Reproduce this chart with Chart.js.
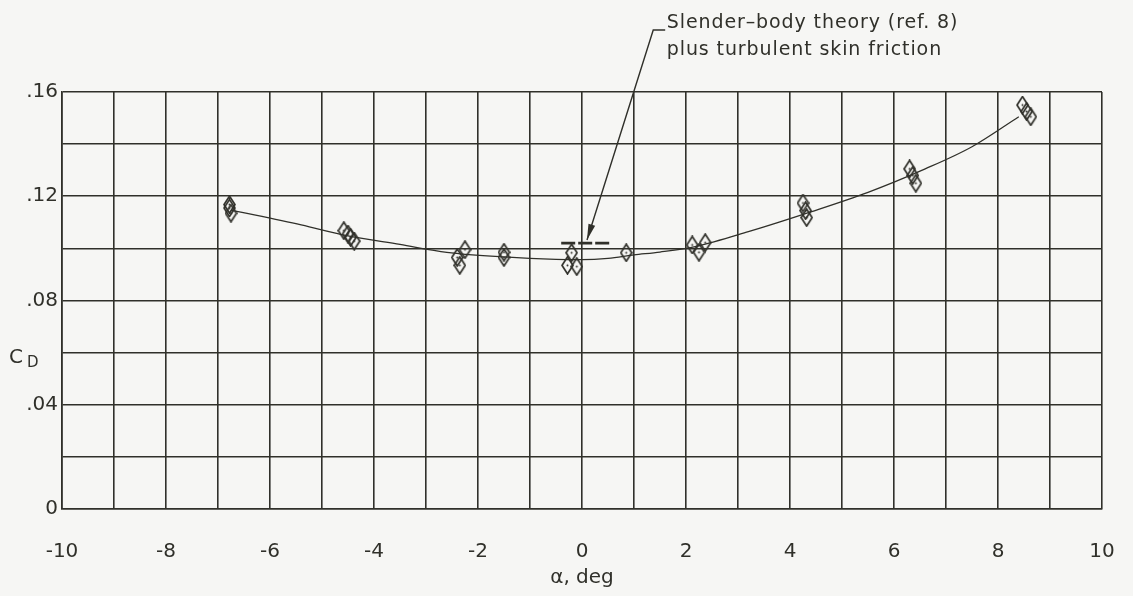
<!DOCTYPE html>
<html>
<head>
<meta charset="utf-8">
<script src="https://cdn.jsdelivr.net/npm/chart.js@4.4.1/dist/chart.umd.min.js"></script>
<style>
  html, body { margin: 0; padding: 0; background: #f6f6f4; }
  #c { display: block; }
</style>
</head>
<body>
<canvas id="c" width="1133" height="596"></canvas>
<script>
// ---- Data ----
const ptAlpha = [-6.78, -6.78, -6.75, -4.58, -4.5, -4.45, -4.38, -2.4, -2.25, -2.35, -1.5, -1.5, -0.2, -0.28, -0.1, 0.85, 2.12, 2.25, 2.37, 4.25, 4.3, 4.32, 6.3, 6.36, 6.42, 8.47, 8.55, 8.63];
const ptCD    = [0.1168, 0.1155, 0.1135, 0.1068, 0.1055, 0.1042, 0.1028, 0.0965, 0.0995, 0.0935, 0.0985, 0.0965, 0.0983, 0.0935, 0.093, 0.0983, 0.1013, 0.0985, 0.1022, 0.1174, 0.1145, 0.1118, 0.1305, 0.128, 0.125, 0.155, 0.1525, 0.1505];

const fairAlpha = [-6.75, -5.4, -4.5, -3.5, -2.6, -1.5, -0.5, 0, 0.5, 1.0, 1.5, 2.2, 3.2, 4.4, 5.5, 6.6, 7.5, 8.4];
const fairCD    = [0.1147, 0.109, 0.1048, 0.1015, 0.0985, 0.0967, 0.0958, 0.0957, 0.0962, 0.0975, 0.0986, 0.1008, 0.1064, 0.1140, 0.1215, 0.1305, 0.1390, 0.1505];

const theoryAlpha = [-0.4, 0.55];
const theoryCD    = [0.102, 0.102];

const xTickValues = [-10, -8, -6, -4, -2, 0, 2, 4, 6, 8, 10];
const xTickLabels = ['-10', '-8', '-6', '-4', '-2', '0', '2', '4', '6', '8', '10'];
const yTickValues = [0, 0.04, 0.08, 0.12, 0.16];
const yTickLabels = ['0', '.04', '.08', '.12', '.16'];

const noteLines = ['Slender\u2013body theory (ref. 8)', 'plus turbulent skin friction'];
const noteText  = { x: 1.63, y1: 0.1865, y2: 0.1761 };
const noteArrow = { hx0: 1.60, hx1: 1.37, hy: 0.1838, tipX: 0.096, tipY: 0.1032 };

// ---- Styling ----
const INK = '#30302a';
const BG = '#f6f6f4';
const FONT = '"DejaVu Sans", sans-serif';

function diamondStyle() {
  const w = 13, h = 19;
  const cv = document.createElement('canvas');
  cv.width = w; cv.height = h;
  const g = cv.getContext('2d');
  g.strokeStyle = INK;
  g.lineWidth = 1.7;
  g.beginPath();
  g.moveTo(w / 2, 1);
  g.lineTo(w - 1, h / 2);
  g.lineTo(w / 2, h - 1);
  g.lineTo(1, h / 2);
  g.closePath();
  g.stroke();
  g.fillStyle = INK;
  g.beginPath();
  g.arc(w / 2, h / 2, 1, 0, Math.PI * 2);
  g.fill();
  return cv;
}

const bgPlugin = {
  id: 'bg',
  beforeDraw(chart) {
    const ctx = chart.ctx;
    ctx.save();
    ctx.fillStyle = BG;
    ctx.fillRect(0, 0, chart.width, chart.height);
    ctx.restore();
  }
};

const notePlugin = {
  id: 'note',
  afterDraw(chart) {
    const ctx = chart.ctx;
    const xs = chart.scales.x, ys = chart.scales.y;
    ctx.save();
    // annotation text
    ctx.fillStyle = INK;
    ctx.font = '19px ' + FONT;
    ctx.letterSpacing = '0.9px';
    ctx.textBaseline = 'middle';
    ctx.textAlign = 'left';
    const tx = xs.getPixelForValue(noteText.x);
    ctx.fillText(noteLines[0], tx, ys.getPixelForValue(noteText.y1));
    ctx.fillText(noteLines[1], tx, ys.getPixelForValue(noteText.y2));
    ctx.letterSpacing = '0px';
    // leader line
    const hy = ys.getPixelForValue(noteArrow.hy);
    const h0 = xs.getPixelForValue(noteArrow.hx0);
    const h1 = xs.getPixelForValue(noteArrow.hx1);
    const px = xs.getPixelForValue(noteArrow.tipX);
    const py = ys.getPixelForValue(noteArrow.tipY);
    ctx.strokeStyle = INK;
    ctx.lineWidth = 1.4;
    ctx.beginPath();
    ctx.moveTo(h0, hy);
    ctx.lineTo(h1, hy);
    ctx.lineTo(px, py);
    ctx.stroke();
    // arrowhead
    const ang = Math.atan2(py - hy, px - h1);
    const L = 16, W = 3.5;
    ctx.fillStyle = INK;
    ctx.beginPath();
    ctx.moveTo(px, py);
    ctx.lineTo(px - L * Math.cos(ang) + W * Math.sin(ang), py - L * Math.sin(ang) - W * Math.cos(ang));
    ctx.lineTo(px - L * Math.cos(ang) - W * Math.sin(ang), py - L * Math.sin(ang) + W * Math.cos(ang));
    ctx.closePath();
    ctx.fill();
    // y axis title C_D
    ctx.textBaseline = 'alphabetic';
    ctx.font = '20px ' + FONT;
    ctx.fillText('C', 9, 363);
    ctx.font = '15px ' + FONT;
    ctx.fillText('D', 27, 367);
    ctx.restore();
  }
};

const scatterPts = ptAlpha.map((a, i) => ({ x: a, y: ptCD[i] }));
const fairPts = fairAlpha.map((a, i) => ({ x: a, y: fairCD[i] }));
const theoryPts = theoryAlpha.map((a, i) => ({ x: a, y: theoryCD[i] }));

new Chart(document.getElementById('c'), {
  type: 'scatter',
  data: {
    datasets: [
      {
        type: 'line',
        data: fairPts,
        borderColor: INK,
        borderWidth: 1.3,
        pointRadius: 0,
        cubicInterpolationMode: 'monotone',
        fill: false
      },
      {
        type: 'line',
        data: theoryPts,
        borderColor: INK,
        borderWidth: 2.6,
        borderDash: [14, 3],
        pointRadius: 0,
        fill: false
      },
      {
        data: scatterPts,
        pointStyle: diamondStyle(),
        pointRadius: 7,
        showLine: false
      }
    ]
  },
  options: {
    responsive: false,
    animation: false,
    devicePixelRatio: 1,
    layout: { padding: { top: 92, right: 31, left: 0, bottom: 0 } },
    plugins: { legend: { display: false }, tooltip: { enabled: false } },
    scales: {
      x: {
        type: 'linear',
        min: -10, max: 10,
        afterFit(axis) { axis.height = 87; axis.paddingLeft = 0; axis.paddingRight = 0; },
        grid: { color: INK, lineWidth: 1.6, drawTicks: false },
        border: { color: INK, width: 1.6 },
        ticks: {
          stepSize: 1,
          autoSkip: false,
          maxRotation: 0,
          padding: 31,
          color: INK,
          font: { family: FONT, size: 20 },
          callback(v) {
            const i = xTickValues.findIndex(t => Math.abs(t - v) < 1e-6);
            return i >= 0 ? xTickLabels[i] : '';
          }
        },
        title: {
          display: true,
          text: '\u03b1, deg',
          color: INK,
          font: { family: FONT, size: 20 },
          padding: { top: 0, bottom: 6 }
        }
      },
      y: {
        type: 'linear',
        min: 0, max: 0.16,
        afterFit(axis) { axis.width = 62; axis.paddingTop = 0; axis.paddingBottom = 0; },
        grid: { color: INK, lineWidth: 1.6, drawTicks: false },
        border: { color: INK, width: 1.6 },
        ticks: {
          stepSize: 0.02,
          autoSkip: false,
          padding: 4,
          color: INK,
          font: { family: FONT, size: 20 },
          callback(v) {
            const i = yTickValues.findIndex(t => Math.abs(t - v) < 1e-6);
            return i >= 0 ? yTickLabels[i] : '';
          }
        }
      }
    }
  },
  plugins: [bgPlugin, notePlugin]
});
</script>
</body>
</html>
